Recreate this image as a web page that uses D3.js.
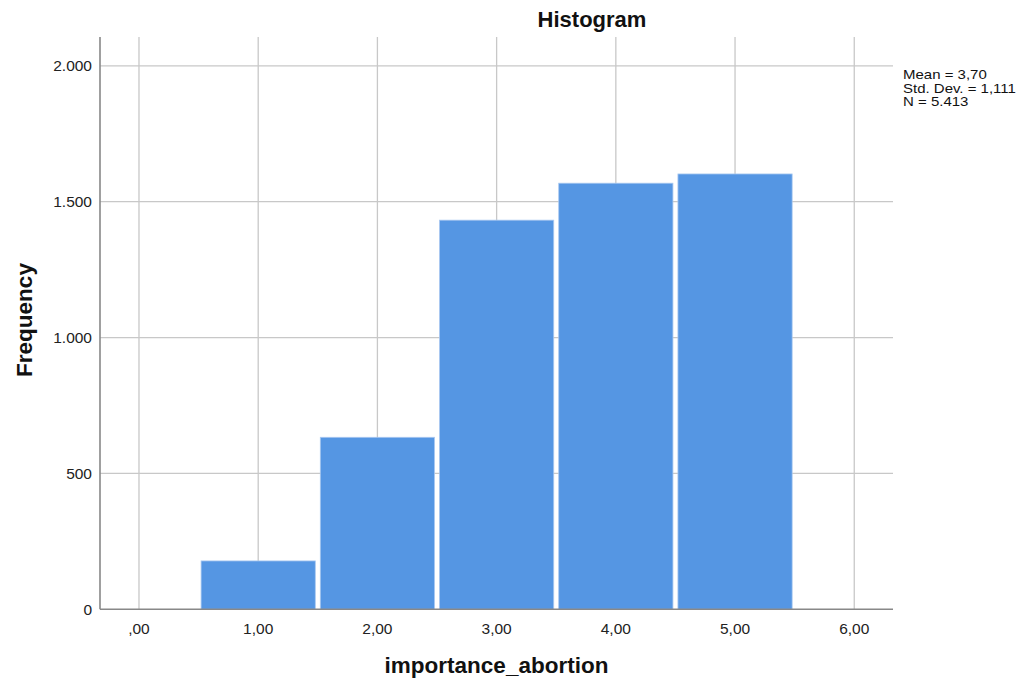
<!DOCTYPE html>
<html><head><meta charset="utf-8">
<script src="https://cdn.jsdelivr.net/npm/d3@7"></script>
<style>body{margin:0;background:#fff;font-family:"Liberation Sans",Arial,sans-serif;}</style>
</head><body>
<svg id="c" width="1020" height="680"></svg>
<script>
const binCenters = [1, 2, 3, 4, 5];
const frequencies = [178, 633, 1432, 1568, 1602];
const xTicks = [0, 1, 2, 3, 4, 5, 6];
const xTickLabels = [",00", "1,00", "2,00", "3,00", "4,00", "5,00", "6,00"];
const yTicks = [0, 500, 1000, 1500, 2000];
const yTickLabels = ["0", "500", "1.000", "1.500", "2.000"];
const statsLines = ["Mean = 3,70", "Std. Dev. = 1,111", "N = 5.413"];

const svg = d3.select("#c");
const L = 100, R = 893, T = 37, B = 609.3;
const x = d3.scaleLinear().domain([-0.327, 6.325]).range([L, R]);
const y = d3.scaleLinear().domain([0, 2106]).range([B, T]);
const grid = "#c8c8c8";

// gridlines
svg.append("g").selectAll("line").data(yTicks.filter(d => d > 0)).join("line")
  .attr("x1", L).attr("x2", R).attr("y1", d => y(d)).attr("y2", d => y(d))
  .attr("stroke", grid).attr("stroke-width", 1.3);
svg.append("g").selectAll("line").data(xTicks).join("line")
  .attr("x1", d => x(d)).attr("x2", d => x(d)).attr("y1", T).attr("y2", B)
  .attr("stroke", grid).attr("stroke-width", 1.3);

// bars
svg.append("g").selectAll("rect").data(binCenters).join("rect")
  .attr("x", d => x(d - 0.5) + 2.5)
  .attr("width", d => x(d + 0.5) - x(d - 0.5) - 5)
  .attr("y", (d, i) => y(frequencies[i]))
  .attr("height", (d, i) => B - y(frequencies[i]))
  .attr("fill", "#5596e3").attr("stroke", "#a9c8f0").attr("stroke-width", 0.8);

// axes lines
svg.append("line").attr("x1", L).attr("x2", L).attr("y1", T).attr("y2", B)
  .attr("stroke", "#888").attr("stroke-width", 1.6);
svg.append("line").attr("x1", L).attr("x2", R).attr("y1", B).attr("y2", B)
  .attr("stroke", "#888").attr("stroke-width", 1.6);

// tick labels
svg.append("g").selectAll("text").data(yTicks).join("text")
  .attr("x", L - 8).attr("y", d => y(d)).attr("dy", "0.35em")
  .attr("text-anchor", "end").attr("font-size", 15.5).attr("fill", "#222")
  .text((d, i) => yTickLabels[i]);
svg.append("g").selectAll("text").data(xTicks).join("text")
  .attr("x", d => x(d)).attr("y", 633.5)
  .attr("text-anchor", "middle").attr("font-size", 15.5).attr("fill", "#222")
  .text((d, i) => xTickLabels[i]);

// titles
svg.append("text").attr("x", 592).attr("y", 27).attr("text-anchor", "middle")
  .attr("font-size", 22).attr("font-weight", "bold").attr("fill", "#111").text("Histogram");
svg.append("text").attr("x", 496.5).attr("y", 673).attr("text-anchor", "middle")
  .attr("font-size", 22.5).attr("font-weight", "bold").attr("fill", "#111").text("importance_abortion");
svg.append("text").attr("transform", "translate(32,320) rotate(-90)").attr("text-anchor", "middle")
  .attr("font-size", 22.5).attr("font-weight", "bold").attr("fill", "#111").text("Frequency");

// stats
svg.append("g").selectAll("text").data(statsLines).join("text")
  .attr("transform", (d, i) => `translate(903,${79.3 + i * 13.3}) scale(1.2,1)`)
  .attr("font-size", 12.5).attr("fill", "#111").text(d => d);
</script>
</body></html>
